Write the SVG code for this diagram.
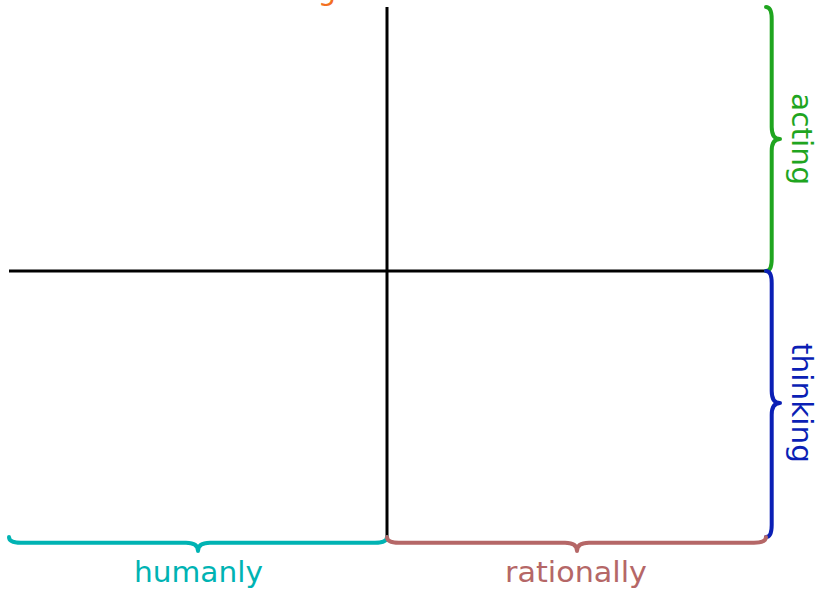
<svg xmlns="http://www.w3.org/2000/svg" width="822" height="591" viewBox="0 0 822 591">
  <style>
    .axis { stroke: #000; stroke-width: 3; fill: none; stroke-linecap: butt; }
    .brace { fill: none; stroke-width: 4; stroke-linecap: round; stroke-linejoin: round; }
    .lbl { font-family: "DejaVu Sans", "Liberation Sans", sans-serif; font-size: 29px; text-anchor: middle; }
  </style>
  <rect width="822" height="591" fill="#fff"/>
  <g id="title">
    <text class="lbl" x="327" y="0" fill="#f36f21">g</text>
  </g>
  <g id="connectors">
    <line class="axis" x1="387" y1="7" x2="387" y2="537"/>
    <line class="axis" x1="9" y1="271" x2="768" y2="271"/>
  </g>
  <g id="acting">
    <path class="brace" stroke="#1fa51f" d="M 766 7 Q 771.7 7 771.7 19 L 771.7 127 Q 771.7 139 780 139 Q 771.7 139 771.7 151 L 771.7 259 Q 771.7 271 766 271"/>
    <text class="lbl" fill="#1fa51f" transform="translate(792,139) rotate(90)" textLength="92" lengthAdjust="spacingAndGlyphs">acting</text>
  </g>
  <g id="thinking">
    <path class="brace" stroke="#0b1fb5" d="M 766 271 Q 771.7 271 771.7 283 L 771.7 391 Q 771.7 403 780 403 Q 771.7 403 771.7 415 L 771.7 525 Q 771.7 537 766 537"/>
    <text class="lbl" fill="#0b1fb5" transform="translate(792,403) rotate(90)" textLength="120" lengthAdjust="spacingAndGlyphs">thinking</text>
  </g>
  <g id="humanly">
    <path class="brace" stroke="#00b3b3" d="M 9 537 Q 9 542.8 21 542.8 L 186 542.8 Q 198 542.8 198 551 Q 198 542.8 210 542.8 L 375 542.8 Q 387 542.8 387 537"/>
    <text class="lbl" x="198.5" y="582" fill="#00b3b3" textLength="129" lengthAdjust="spacingAndGlyphs">humanly</text>
  </g>
  <g id="rationally">
    <path class="brace" stroke="#b56767" d="M 387 537 Q 387 542.8 399 542.8 L 565 542.8 Q 577 542.8 577 551 Q 577 542.8 589 542.8 L 754 542.8 Q 766 542.8 766 537"/>
    <text class="lbl" x="576" y="582" fill="#b56767" textLength="142" lengthAdjust="spacingAndGlyphs">rationally</text>
  </g>
</svg>
